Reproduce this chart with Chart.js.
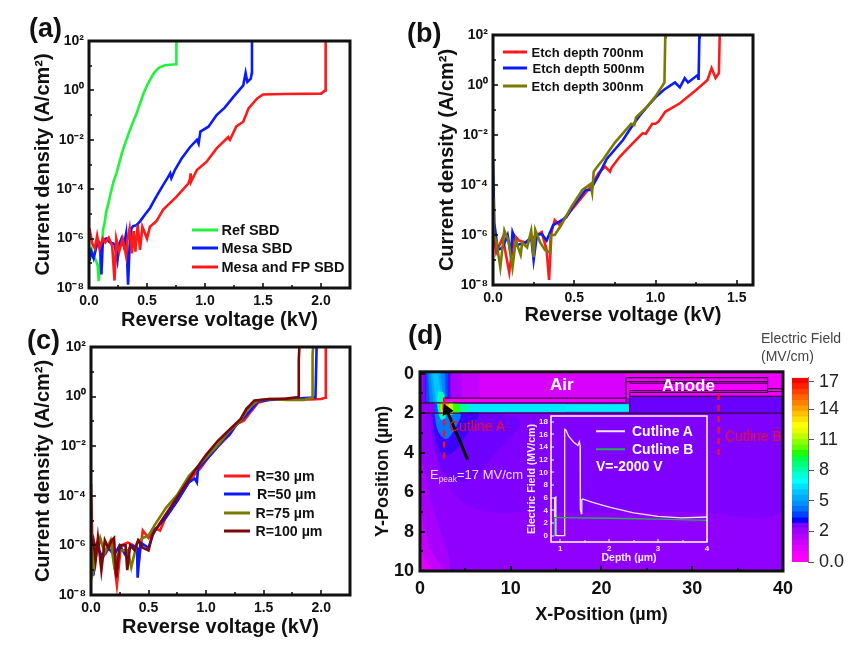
<!DOCTYPE html>
<html><head><meta charset="utf-8">
<style>
html,body{margin:0;padding:0;background:#fff;width:856px;height:652px;overflow:hidden;font-family:"Liberation Sans",Arial,sans-serif}
canvas{position:absolute}
.t{position:absolute;white-space:nowrap;line-height:1;transform:translateY(-50%)}
.k{position:absolute;height:3px;transform:translateY(-50%)}
sub{font-size:65%;line-height:0}
</style>
<script src="https://cdn.jsdelivr.net/npm/chart.js@4/dist/chart.umd.min.js"></script>
</head><body>
<script>
// ---------- data: current density panels ----------
const decadeTicks=[1e-8,1e-7,1e-6,1e-5,1e-4,1e-3,1e-2,1e-1,1e0,1e1,1e2];
const decadeLabels=["10⁻⁸","","10⁻⁶","","10⁻⁴","","10⁻²","","10⁰","","10²"];
const voltTicksAC=[0,0.25,0.5,0.75,1,1.25,1.5,1.75,2,2.25];
const voltLabelsAC=["0.0","","0.5","","1.0","","1.5","","2.0",""];
const voltTicksB=[0,0.25,0.5,0.75,1,1.25,1.5];
const voltLabelsB=["0.0","","0.5","","1.0","","1.5"];

const aRefV=[0.005,0.02,0.04,0.06,0.075,0.084,0.1,0.11,0.121,0.135,0.15,0.17,0.19,0.21,0.236,0.26,0.28,0.30,0.323,0.345,0.37,0.39,0.41,0.43,0.45,0.47,0.496,0.52,0.54,0.56,0.582,0.60,0.62,0.654,0.70,0.75,0.752,0.755];
const aRefJ=[3e-7,4e-7,2e-7,1.3e-7,8e-8,1.9e-8,1.6e-7,5e-7,2.3e-6,4.5e-6,1.3e-5,3e-5,8e-5,1.9e-4,4.4e-4,1.1e-3,2.5e-3,5e-3,0.01,0.02,0.04,0.07,0.117,0.22,0.4,0.75,1.4,2.4,3.5,5,6.6,8,9,10.5,11,11.5,12,100];
const aMesaV=[0,0.005,0.02,0.04,0.06,0.08,0.095,0.107,0.12,0.15,0.18,0.22,0.245,0.26,0.28,0.30,0.32,0.337,0.35,0.365,0.38,0.41,0.44,0.48,0.525,0.58,0.64,0.68,0.70,0.71,0.74,0.80,0.87,0.93,0.945,0.96,1.03,1.10,1.17,1.245,1.33,1.35,1.365,1.395,1.403,1.405];
const aMesaJ=[2e-7,1.3e-7,3e-7,1.6e-7,4e-7,8e-7,6e-7,3.5e-8,9e-7,1e-6,7e-7,6e-7,1.3e-7,6e-7,1e-6,5e-7,1.6e-6,1.35e-8,5e-7,2.5e-6,3.2e-6,3.5e-6,5e-6,9e-6,1.7e-5,5e-5,1.5e-4,3e-4,4.4e-4,2.8e-4,6e-4,1.8e-3,5e-3,0.01,7e-3,0.0214,0.034,0.1,0.2,0.55,1.6,5.1,2.2,3,5,100];
const aFpV=[0,0.01,0.03,0.05,0.07,0.09,0.12,0.14,0.17,0.20,0.22,0.235,0.26,0.29,0.32,0.33,0.35,0.37,0.385,0.40,0.42,0.44,0.46,0.5,0.525,0.58,0.64,0.755,0.856,0.87,0.876,0.88,0.93,1.014,1.10,1.2,1.215,1.27,1.33,1.375,1.45,1.5,1.68,2.0,2.03,2.035,2.04];
const aFpJ=[1.3e-6,1.8e-6,6e-7,4e-7,1.3e-6,4e-7,1e-6,7e-7,1.1e-6,5e-7,2e-8,1e-6,3e-7,1e-6,2e-7,8e-7,2.5e-6,2.5e-7,2e-6,3e-7,3.5e-6,3.5e-7,3e-6,1e-6,3e-6,5e-6,1.5e-5,5e-5,1.7e-4,2.5e-4,4.4e-4,2e-4,6e-4,1.3e-3,4.5e-3,0.013,0.01,0.035,0.054,0.186,0.47,0.68,0.71,0.74,0.95,1.0,100];

const b700V=[0,0.005,0.02,0.06,0.10,0.13,0.16,0.2,0.25,0.3,0.33,0.345,0.36,0.38,0.41,0.43,0.5,0.6,0.65,0.69,0.72,0.73,0.78,0.85,0.92,0.94,0.98,1.0,1.02,1.06,1.15,1.25,1.32,1.345,1.37,1.39,1.395,1.397];
const b700J=[3e-6,1e-6,2e-7,8e-7,3.2e-8,1e-6,6e-7,5e-7,8e-7,1.3e-6,2.5e-7,1.6e-8,1.3e-6,4e-6,2.5e-6,4e-6,1.35e-5,8.5e-5,3e-4,5.4e-4,3.4e-4,5e-4,1.35e-3,4e-3,0.0117,0.0112,0.028,0.028,0.035,0.085,0.186,0.63,1.6,4.7,1.9,3,85,100];
const b500V=[0,0.008,0.03,0.06,0.09,0.11,0.12,0.15,0.2,0.235,0.25,0.27,0.3,0.33,0.37,0.4,0.45,0.5,0.57,0.6,0.65,0.7,0.8,0.85,0.9,0.95,1,1.05,1.12,1.15,1.18,1.2,1.26,1.265,1.27,1.272];
const b500J=[1e-3,3e-6,2.5e-7,3.2e-7,1e-6,1.6e-7,1.3e-6,4e-7,5e-7,8e-7,1e-7,1e-6,1.1e-6,6e-7,2.5e-6,3.2e-6,5e-6,1.6e-5,6.3e-5,6.3e-5,2.5e-4,1.1e-3,6.3e-3,0.02,0.056,0.14,0.32,0.63,1.26,0.8,1.86,1.26,2.5,1.6,80,100];
const b300V=[0,0.005,0.02,0.045,0.07,0.095,0.12,0.14,0.17,0.18,0.21,0.235,0.25,0.26,0.29,0.32,0.35,0.355,0.38,0.42,0.48,0.55,0.6,0.61,0.62,0.65,0.68,0.75,0.85,0.87,0.88,0.95,1,1.03,1.055,1.06,1.063];
const b300J=[3e-5,1e-6,6e-7,5e-8,1.5e-6,6e-7,5e-8,6e-7,1.6e-7,5e-7,3.2e-7,1.5e-6,1.3e-7,1.6e-6,5e-7,2.5e-7,2e-7,1e-6,1e-6,2.5e-6,1.26e-5,6.3e-5,1.1e-4,5e-5,3.5e-4,6.3e-4,1.1e-3,5e-3,0.028,0.025,0.05,0.14,0.35,0.7,1.26,80,100];

const cR30V=[0,0.01,0.03,0.08,0.13,0.18,0.225,0.26,0.32,0.37,0.42,0.45,0.5,0.55,0.6,0.65,0.75,0.87,0.95,1.05,1.15,1.21,1.27,1.33,1.38,1.45,1.55,1.7,1.9,2.0,2.035,2.04];
const cR30J=[3e-4,3e-6,1e-6,1.6e-6,5e-7,1.3e-6,2.5e-8,1e-6,1.3e-6,1e-6,3.2e-7,4e-6,2e-6,5e-6,4e-6,1.4e-5,6.3e-5,5e-4,1.26e-3,5.6e-3,0.016,0.032,0.08,0.11,0.22,0.56,0.76,0.8,0.76,0.8,0.9,100];
const cR50V=[0.01,0.02,0.05,0.1,0.15,0.2,0.25,0.3,0.35,0.4,0.405,0.43,0.5,0.55,0.65,0.75,0.85,0.9,0.92,0.93,1,1.05,1.15,1.2,1.25,1.35,1.45,1.55,1.7,1.9,1.95,1.96];
const cR50J=[3e-7,6e-8,1e-6,3.2e-7,8e-7,4e-7,1e-6,4e-7,1e-6,8e-7,5e-8,1.3e-6,8e-7,4e-6,1.3e-5,6.3e-5,3.5e-4,5e-4,3.5e-4,1.26e-3,2.8e-3,5e-3,0.018,0.028,0.063,0.18,0.63,0.74,0.8,0.9,0.93,100];
const cR75V=[0.01,0.02,0.05,0.08,0.12,0.17,0.2,0.25,0.32,0.35,0.4,0.45,0.5,0.55,0.65,0.75,0.85,0.9,1,1.1,1.2,1.3,1.37,1.45,1.55,1.7,1.85,1.92,1.925,1.93];
const cR75J=[1e-6,1e-7,5e-7,2e-6,5e-7,1.6e-6,1.6e-7,6.3e-7,6.3e-7,1.3e-7,1.3e-6,2e-6,2.5e-6,6.3e-6,3.2e-5,1.1e-4,6.3e-4,1.1e-3,3.5e-3,0.011,0.04,0.11,0.35,0.7,0.8,0.74,0.74,0.9,50,100];
const cR100V=[0.005,0.02,0.04,0.06,0.09,0.12,0.15,0.18,0.2,0.22,0.25,0.3,0.315,0.34,0.38,0.41,0.45,0.5,0.53,0.6,0.7,0.8,0.9,1,1.1,1.2,1.3,1.35,1.42,1.55,1.7,1.8,1.805,1.81];
const cR100J=[1e-6,1.6e-6,2.5e-7,2e-6,1e-7,1.6e-6,8e-7,1.6e-6,2e-6,5e-8,1e-6,1e-6,1e-7,1e-6,6.3e-7,1.6e-6,8e-7,6.3e-7,2.5e-6,8e-6,4e-5,2e-4,1e-3,4.5e-3,0.016,0.045,0.126,0.32,0.7,0.8,0.83,0.95,30,100];

// ---------- data: panel (d) field map, outlines in micrometres ----------
const posTicksX=[0,5,10,15,20,25,30,35,40];
const posLabelsX=["0","","10","","20","","30","","40"];
const posTicksY=[0,1,2,3,4,5,6,7,8,9,10];
const posLabelsY=["0","","2","","4","","6","","8","","10"];
// painted back to front: [colour, xs, ys, smooth]
const fieldMap=[
 ["#9000ff",[0,40,40,0],[-0.1,-0.1,10,10],0],
 ["#a800ff",[0,1.2,2.2,3.2,0],[4,6.5,8,10,10],1],
 ["#c400ff",[0,0.7,1.2,2.6,0],[7,8.2,9,10,10],1],
 ["#de00ff",[0,0.6,1.4,0],[8.8,9.5,10,10],1],
 ["#8000ff",[1,40,40,30,20,12,7,4,2.2,1],[2,2,6.9,7,7,7,6.95,6.2,4.8,2],1],
 ["#6e00ff",[1.2,7,11,8,5.5,3,1.6,1.2],[2,2,2.4,4.2,5.4,5.2,3.8,2],1],
 ["#3c00ff",[1.4,6.4,5.2,3.6,2.4,1.6,1.4],[2,2,3,4,4.05,3,2],1],
 ["#0078ff",[1.6,4.4,3.8,2.9,2,1.6],[2,2,2.8,3.3,2.9,2],1],
 ["#8a00ff",[0,0.7,0.7,0],[-0.1,-0.1,2,2],0],
 ["#d800ff",[2.9,40,40,2.9],[-0.1,-0.1,1.23,1.23],0],
 ["#c400ff",[3.3,6.5,6.5,3.3],[-0.1,-0.1,1.23,1.23],0],
 ["#ac00ff",[3.3,4.5,4.5,3.3],[-0.1,-0.1,1.23,1.23],0],
 ["#5a00ff",[0.55,3.3,3.3,0.55],[-0.1,-0.1,1.5,1.5],0],
 ["#0050ff",[0.7,3,3,1.6,0.7],[-0.1,-0.1,2,2,2],0],
 ["#0088ff",[0.9,2.7,2.8,1.1],[-0.1,-0.1,1.5,1.5],0],
 ["#00a8ff",[1.15,2.2,2.6,1.5],[-0.1,-0.1,1.5,1.5],0],
 ["#00c8ff",[1.35,1.95,2.4,1.8],[-0.1,-0.1,1.5,1.5],0],
 ["#00ffc0",[2,2.6,2.8,2.3,1.9],[0.9,1,2.2,2.3,1.5],1],
 ["#9000ff",[0,1.5,1.5,0],[1.5,1.5,2,2],0],
 ["#f000ff",[2.66,22.7,22.7,2.66],[1.23,1.23,1.48,1.48],0],
 ["#00f0ff",[2.5,23,23,2.5],[1.55,1.55,1.93,1.93],0],
 ["#00e8ff",[2.5,16,16,2.5],[1.55,1.55,1.93,1.93],0],
 ["#00ffa8",[2.5,5.4,5.4,2.5],[1.55,1.55,1.93,1.93],0],
 ["#30ff00",[2.2,4.3,4.3,2.2],[1.5,1.5,2,2],0],
 ["#c0ff00",[2.3,3.6,3.6,2.3],[1.45,1.45,2.05,2.05],0],
 ["#ffc000",[2.4,3.1,3.1,2.4],[1.45,1.45,2,2],0],
 ["#ff4000",[2.5,2.8,2.8,2.5],[1.55,1.55,1.85,1.85],0],
 ["#f000ff",[22.6,40,40,22.6],[-0.1,-0.1,1.2,1.2],0],
 ["#6a00ff",[23.1,40,40,23.1],[1.15,1.15,2,2],0]
];
const meshLines=[
 [[0,2.66],[1.48,1.48]],
 [[0,40],[2,2]],
 [[2.66,22.7],[1.23,1.23]],
 [[2.66,22.7,22.7],[1.48,1.48,0.2]],
 [[22.7,38.3,38.3,23.1,23.1],[0.2,0.2,0.95,0.95,2]],
 [[22.7,38.3],[0.4,0.4]],
 [[23.1,38.3],[0.48,0.48]],
 [[23.1,38.3],[0.85,0.85]],
 [[23.1,40],[1.15,1.15]],
 [[38.3,40],[0.75,0.75]],
 [[38.3,40],[0.9,0.9]]
];
const cutlineAX=[2.66,2.66], cutlineAY=[1.2,4.5];
const cutlineBX=[32.9,32.9], cutlineBY=[1.03,4.35];
const arrowX=[5.25,2.95], arrowY=[4.35,1.85];

// ---------- data: inset ----------
const depthTicks=[1,1.5,2,2.5,3,3.5,4];
const depthLabels=["1","","2","","3","","4"];
const fieldTicks=[0,2,4,6,8,10,12,14,16,18];
const fieldLabels=["0","2","4","6","8","10","12","14","16","18"];
const cutAD=[0.885,0.885,0.91,0.91,1.09,1.09,1.115,1.17,1.27,1.36,1.39,1.405,1.41,1.43,1.44,1.455,1.645,2,2.5,3,3.48,4];
const cutAE=[0,6,6.1,0,0,16.8,16.7,15.7,14.8,14.25,14.85,14.25,4.1,3.5,5.7,5.8,5.28,4.5,3.6,3.06,2.8,2.95];
const cutBD=[0.885,0.885,1,2,3,4];
const cutBE=[0,2.85,2.85,2.75,2.6,2.4];

// ---------- data: colour bar ----------
const barColors=["#ff00ff","#f000ff","#e000ff","#cc00ff","#b400ff","#9c00ff","#7a00ff","#0000ff","#0040ff","#0070ff","#0090ff","#00aaff","#00c4ff","#00e0ff","#00ffff","#00ffd8","#00ffa8","#00ff78","#00ff48","#20ff00","#60ff00","#90ff00","#c0ff00","#e8ff00","#ffff00","#ffe000","#ffc000","#ffa000","#ff8000","#ff6000","#ff4000","#ff2000","#ff0000"];
const barSteps=barColors.map(()=>1);
const barTickPos=[0,5.55,10.98,16.5,21.9,27.4,32.3];
const barTickLabels=["0.0","2","5","8","11","14","17"];

// ---------- helpers ----------
const FONT='"Liberation Sans",Arial,sans-serif';
const zip=(xs,ys)=>xs.map((x,i)=>({x,y:ys[i]}));
const tickAxis=(vals,labels)=>({
  afterBuildTicks:s=>{s.ticks=vals.map(v=>({value:v}));},
  callback:(v,i)=>labels[i]
});
const framePlugin={id:'frame',afterDatasetsDraw(c,_a,o){
  const {left:l,right:r,top:t,bottom:b}=c.chartArea,g=c.ctx;
  g.save();g.strokeStyle=o.color;g.lineWidth=o.width;g.lineCap='butt';
  const tick=(s,horiz)=>s.ticks.forEach(k=>{
    const p=Math.round(s.getPixelForValue(k.value)),len=k.label?o.major:o.minor;
    g.beginPath();
    if(horiz){g.moveTo(p,b);g.lineTo(p,b-len);}else{g.moveTo(l,p);g.lineTo(l+len,p);}
    g.lineWidth=o.tickWidth;g.stroke();
  });
  tick(c.scales.x,true);tick(c.scales.y,false);
  g.lineWidth=o.width;g.strokeRect(l,t,r-l,b-t);
  g.restore();
}};
function place(id,left,top,right,bottom){
  const c=document.createElement('canvas');c.id=id;c.width=right-left;c.height=bottom-top;
  c.style.left=left+'px';c.style.top=top+'px';c.style.width=(right-left)+'px';c.style.height=(bottom-top)+'px';
  document.body.appendChild(c);return c;
}
function axis(type,min,max,vals,labels,title,fit,opts){
  const o=opts||{};
  const t=tickAxis(vals,labels);
  return {type,min,max,reverse:!!o.reverse,
    grid:{display:false,drawTicks:false},border:{display:false},
    title:{display:!!title,text:title,color:o.titleColor||'#111',padding:0,font:{family:FONT,weight:'bold',size:o.titleSize||20}},
    ticks:{autoSkip:false,maxRotation:0,minRotation:0,padding:o.pad===undefined?4:o.pad,color:o.tickColor||'#111',font:{family:FONT,weight:'bold',size:o.tickSize||14},callback:t.callback},
    afterBuildTicks:t.afterBuildTicks,afterFit:fit};
}
function jvChart(id,box,lefts,seriesList,xMax,xVals,xLabels){
  const [pl,pt,pr,pb]=box,cl=lefts[0],cb=lefts[1],P=16;
  const ds=seriesList.map(s=>({label:s.name,data:zip(s.v,s.j),borderColor:s.color,backgroundColor:s.color,borderWidth:2.6,pointRadius:0,tension:0,showLine:true,fill:false}));
  new Chart(place(id,cl,pt-P,pr+P,cb),{type:'scatter',data:{datasets:ds},plugins:[framePlugin],options:{
    responsive:false,animation:false,layout:{padding:{top:P,right:P,left:0,bottom:0}},
    plugins:{legend:{display:false},tooltip:{enabled:false},frame:{color:'#111',width:3,tickWidth:1.6,major:5,minor:3}},
    scales:{
      x:axis('linear',0,xMax,xVals,xLabels,'Reverse voltage (kV)',s=>{s.height=cb-pb;},{pad:5}),
      y:axis('logarithmic',1e-8,1e2,decadeTicks,decadeLabels,'Current density (A/cm²)',s=>{s.width=pl-cl;},{pad:5})
    }}});
}
function text(str,x,y,css){const d=document.createElement('div');d.className='t';d.innerHTML=str;d.style.left=x+'px';d.style.top=y+'px';d.style.cssText+=css;document.body.appendChild(d);return d;}
function legendRow(color,x1,x2,y,label,tx,size,tcolor,h){
  const k=document.createElement('div');k.className='k';k.style.cssText+=`left:${x1}px;top:${y}px;width:${x2-x1}px;background:${color};height:${h||3}px`;document.body.appendChild(k);
  text(label,tx,y,`font-weight:bold;font-size:${size}px;color:${tcolor||'#111'}`);
}

// ---------- panels a, b, c ----------
const aSeries=[{name:'Mesa and FP SBD',v:aFpV,j:aFpJ,color:'#ff1a1a'},{name:'Mesa SBD',v:aMesaV,j:aMesaJ,color:'#0a1aff'},{name:'Ref SBD',v:aRefV,j:aRefJ,color:'#22f23a'}];
jvChart('a',[89,41,350,288],[31,332],aSeries,2.25,voltTicksAC,voltLabelsAC);
const bSeries=[{name:'Etch depth 300nm',v:b300V,j:b300J,color:'#7a7a00'},{name:'Etch depth 500nm',v:b500V,j:b500J,color:'#0a1aff'},{name:'Etch depth 700nm',v:b700V,j:b700J,color:'#ff1a1a'}];
jvChart('b',[493,35,753,285],[435,327],bSeries,1.6,voltTicksB,voltLabelsB);
const cSeries=[{name:'R=100 µm',v:cR100V,j:cR100J,color:'#7a0808'},{name:'R=75 µm',v:cR75V,j:cR75J,color:'#7a7a00'},{name:'R=50 µm',v:cR50V,j:cR50J,color:'#0a1aff'},{name:'R=30 µm',v:cR30V,j:cR30J,color:'#ff1a1a'}];
jvChart('c',[91,347,350,595],[31,639],cSeries,2.25,voltTicksAC,voltLabelsAC);

// ---------- panel d ----------
const dPl=420,dPt=369,dPr=786,dPb=571,dCl=372,dCb=626,dP=14;
const regionSets=fieldMap.map(r=>({data:zip(r[1],r[2]).concat([{x:r[1][0],y:r[2][0]}]),showLine:true,fill:'shape',backgroundColor:r[0],borderColor:r[0],borderWidth:0.5,pointRadius:0,tension:r[3]?0.35:0}));
const lineSets=meshLines.map(l=>({data:zip(l[0],l[1]),showLine:true,fill:false,borderColor:'#3a0040',borderWidth:1.2,pointRadius:0,tension:0}));
const dashSets=[[cutlineAX,cutlineAY],[cutlineBX,cutlineBY]].map(c=>({data:zip(c[0],c[1]),showLine:true,fill:false,borderColor:'#f01030',borderWidth:2.4,borderDash:[6,5],pointRadius:0,tension:0}));
const arrowSet={data:zip(arrowX,arrowY),showLine:true,fill:false,borderColor:'#000',backgroundColor:'#000',borderWidth:3,pointStyle:'triangle',pointRadius:[0,7],pointBorderWidth:0,pointRotation:-24,tension:0};
new Chart(place('d',dCl,dPt-dP,dPr+dP,dCb),{type:'scatter',data:{datasets:[arrowSet,...dashSets,...lineSets.slice().reverse(),...regionSets.slice().reverse()]},plugins:[framePlugin],options:{
  responsive:false,animation:false,layout:{padding:{top:dP,right:dP,left:0,bottom:0}},
  plugins:{legend:{display:false},tooltip:{enabled:false},frame:{color:'#111',width:3,tickWidth:2,major:5,minor:3}},
  scales:{
    x:axis('linear',0,40,posTicksX,posLabelsX,'X-Position (µm)',s=>{s.height=dCb-dPb;},{tickSize:18,titleSize:18,pad:7}),
    y:axis('linear',-0.1,10,posTicksY,posLabelsY,'Y-Position (µm)',s=>{s.width=dPl-dCl;},{tickSize:18,titleSize:18,pad:6,reverse:true})
  }}});

// ---------- inset ----------
const iPl=551,iPt=416,iPr=707,iPb=542,iCl=526,iCb=564,iP=10;
new Chart(place('inset',iCl,iPt-iP,iPr+iP,iCb),{type:'scatter',data:{datasets:[
  {data:zip(cutBD,cutBE),showLine:true,borderColor:'#22b04a',borderWidth:1.3,pointRadius:0,tension:0},
  {data:zip(cutAD,cutAE),showLine:true,borderColor:'#efe6ff',borderWidth:1.3,pointRadius:0,tension:0}
]},plugins:[framePlugin],options:{
  responsive:false,animation:false,layout:{padding:{top:iP,right:iP,left:0,bottom:0}},
  plugins:{legend:{display:false},tooltip:{enabled:false},frame:{color:'#fff',width:1.5,tickWidth:1,major:3,minor:2}},
  scales:{
    x:axis('linear',0.81,4,depthTicks,depthLabels,'Depth (µm)',s=>{s.height=iCb-iPb;},{tickSize:8,titleSize:10.5,pad:2,tickColor:'#f2eaff',titleColor:'#f2eaff'}),
    y:axis('linear',-1,18.9,fieldTicks,fieldLabels,'Electric Field (MV/cm)',s=>{s.width=iPl-iCl;},{tickSize:8,titleSize:10.6,pad:3,tickColor:'#f2eaff',titleColor:'#f2eaff'})
  }}});

// ---------- colour bar ----------
const bPl=792,bPt=370,bPr=808,bPb=572,bCr=852,bCb=578;
new Chart(place('bar',bPl,bPt-8,bCr,bCb),{type:'bar',data:{labels:['E'],datasets:barColors.map((col,i)=>({data:[barSteps[i]],backgroundColor:col,borderWidth:0,barPercentage:1,categoryPercentage:1,stack:'s'}))},options:{
  responsive:false,animation:false,layout:{padding:{top:8,right:0,left:0,bottom:bCb-bPb}},
  plugins:{legend:{display:false},tooltip:{enabled:false}},
  scales:{
    x:{display:false,stacked:true},
    y:{type:'linear',position:'right',stacked:true,min:0,max:33,
       grid:{drawOnChartArea:false,drawTicks:true,tickLength:6,tickColor:'#555',tickWidth:1},border:{display:true,color:'#777'},
       afterBuildTicks:s=>{s.ticks=barTickPos.map(v=>({value:v}));},
       afterFit:s=>{s.width=bCr-bPr;},
       ticks:{autoSkip:false,padding:5,color:'#222',font:{family:FONT,size:18},callback:(v,i)=>barTickLabels[i]}}
  }}});

// ---------- text and legends ----------
const P_LABEL='font-weight:bold;font-size:27px;color:#111';
text('(a)',29,28,P_LABEL);text('(b)',407,33,P_LABEL);text('(c)',27,340,P_LABEL);text('(d)',408,335,P_LABEL);
[...aSeries].reverse().forEach((s,i)=>legendRow(s.color,192,218,[230,248,267][i],s.name,221.5,14.5));
[...bSeries].reverse().forEach((s,i)=>legendRow(s.color,503,527,[52,68,85.5][i],s.name,[531.5,532.5,531.5][i],13));
[...cSeries].reverse().forEach((s,i)=>legendRow(s.color,224,250,[476,494,513,531][i],s.name,[255.5,257,255.5,255.5][i],14.2));
legendRow('#efe6ff',596,625,431,'Cutline A',632,14,'#fff',1.5);
legendRow('#22b04a',596,625,449,'Cutline B',632,14,'#fff',1.5);
text('V=-2000 V',596,466,'font-weight:bold;font-size:14px;color:#fff');
text('Air',550,384,'font-weight:bold;font-size:17px;color:#fff');
text('Anode',662,385,'font-weight:bold;font-size:17px;color:#fff');
text('Cutline A',449,426,'font-size:14px;color:#e8102a');
text('Cutline B',725,436,'font-size:14px;color:#e8102a');
text('E<sub>peak</sub>=17 MV/cm',430,474,'font-size:13px;color:#eadcff');
text('Electric Field',761,338,'font-size:14px;color:#444');
text('(MV/cm)',761,356,'font-size:14px;color:#444');
</script>
</body></html>
